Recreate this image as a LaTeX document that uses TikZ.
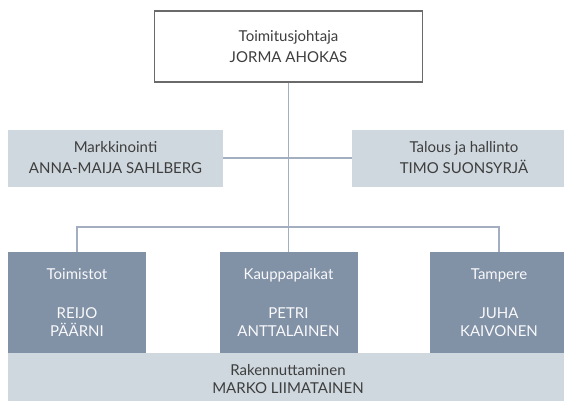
\documentclass[tikz,border=0pt]{standalone}
\usepackage{fontspec}
\setmainfont{Lato}
\usepackage{tikz}
\usetikzlibrary{positioning}
\definecolor{orgline}{HTML}{A3AEC0}
\definecolor{orgdark}{HTML}{8191A6}
\definecolor{orglight}{HTML}{CFD8DF}
\definecolor{orgtext}{HTML}{3E3E3E}
\definecolor{orgframe}{HTML}{6A6A6A}
\newcommand{\orgfont}{\fontsize{15}{21}\selectfont}
\newcommand{\unitfont}{\fontsize{15}{18}\selectfont}
\tikzset{%
  chief/.style={%
    draw=orgframe,
    line width=1.4pt,
    fill=white,
    text=orgtext,
    minimum width=268pt,
    minimum height=71pt,
    align=center,
    font=\orgfont
  },
  staff/.style={%
    fill=orglight,
    text=orgtext,
    minimum height=57pt,
    align=center,
    font=\orgfont
  },
  unit/.style={%
    fill=orgdark,
    text=white!95!orgdark,
    minimum width=138pt,
    minimum height=101pt,
    align=center,
    font=\unitfont
  },
  link/.style={%
    draw=orgline,
    line width=1.4pt
  }
}

\begin{document}
\begin{tikzpicture}[x=1pt,y=-1pt]
    \useasboundingbox (0,0) rectangle (564,400);
    \clip (0,0) rectangle (564,400);

    \node[chief] (ceo) at (288.5,46.5) {Toimitusjohtaja\\JORMA AHOKAS};

    \node[staff,minimum width=215pt] (mark) at (115.5,158) {Markkinointi\\ANNA-MAIJA SAHLBERG};
    \node[staff,minimum width=224pt] (talous) at (464,158) {Talous ja hallinto\\TIMO SUONSYRJÄ};

    \node[unit] (toim) at (77,302.5) {Toimistot\\[21pt]REIJO\\PÄÄRNI};
    \node[unit] (kaup) at (288.5,302.5) {Kauppapaikat\\[21pt]PETRI\\ANTTALAINEN};
    \node[unit] (tamp) at (499,302.5) {Tampere\\[21pt]JUHA\\KAIVONEN};

    \node[staff,minimum width=560pt,minimum height=52pt,font=\unitfont] (rak) at (288,379) {Rakennuttaminen\\MARKO LIIMATAINEN};

    \coordinate (fork) at (288.5,227);
    \draw[link] (ceo.south) -- (kaup.north);
    \draw[link] (mark.east) -- (talous.west);
    \draw[link] (toim.north) |- (fork) -| (tamp.north);
\end{tikzpicture}
\end{document}
